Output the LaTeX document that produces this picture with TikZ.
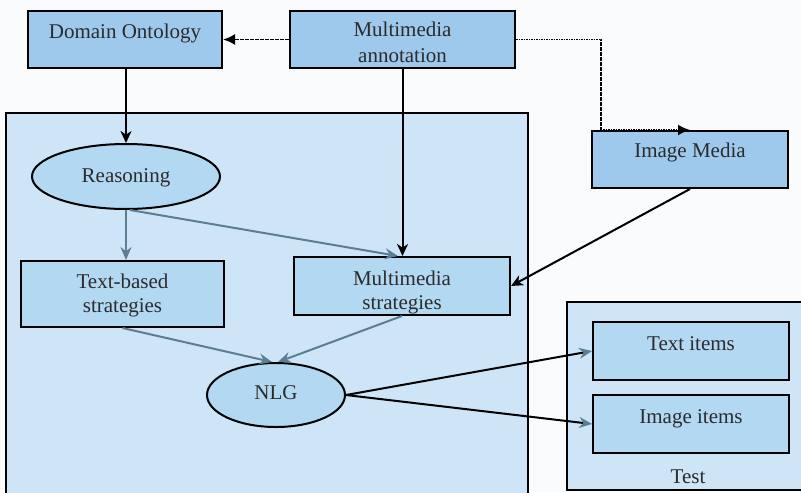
\documentclass[tikz,border=0pt]{standalone}
\usepackage{fontspec}
\setmainfont{Liberation Serif}
\newfontfamily\tmsfont{Liberation Serif}
\usetikzlibrary{arrows.meta,shapes.geometric,calc}
\definecolor{bgc}{HTML}{FAFBFD}
\definecolor{contc}{HTML}{CDE5F6}
\definecolor{darkbox}{HTML}{9FC9EC}
\definecolor{lightbox}{HTML}{B3D8F2}
\definecolor{slate}{HTML}{5D7D93}
\definecolor{textc}{HTML}{2B2B2B}
\begin{document}
\begin{tikzpicture}[x=0.5pt,y=-0.5pt,
  font=\tmsfont\fontsize{10.5}{12}\selectfont,
  dbox/.style={draw=black,line width=1pt,fill=darkbox,inner sep=0pt},
  lbox/.style={draw=black,line width=1pt,fill=lightbox,inner sep=0pt},
  ell/.style={ellipse,draw=black,line width=1pt,fill=lightbox,inner sep=0pt},
  cont/.style={draw=black,line width=0.8pt,fill=contc},
  txt/.style={text=textc,inner sep=0pt,anchor=base,font=\tmsfont\fontsize{10.5}{12}\selectfont},
  blk/.style={draw=black,line width=1pt,-{Stealth[length=6pt,width=5.5pt,inset=1.8pt]}},
  dotline/.style={draw=black,line width=0.9pt,dash pattern=on 0.8pt off 0.45pt,-{Latex[length=6pt,width=5.5pt]}},
  sl/.style={draw=slate,line width=1pt,-{Stealth[length=6.5pt,width=5.5pt,inset=2.2pt]}},
  bsl/.style={draw=black,line width=1pt,-{Stealth[length=6.5pt,width=5.5pt,inset=2.2pt,color=slate]}}
]
\useasboundingbox (0,0) rectangle (801,492);
\fill[bgc] (0,0) rectangle (801,492);
\begin{scope}
\clip (0,0) rectangle (801,492);
\draw[cont] (6,113) rectangle (528,505);
\draw[cont] (567,302) rectangle (815,490);
\end{scope}

% boxes
\node[dbox,minimum width=97pt,minimum height=28.5pt] (do) at (125,39.5) {};
\node[dbox,minimum width=112.5pt,minimum height=28.5pt] (ma) at (402.5,39.5) {};
\node[dbox,minimum width=98pt,minimum height=28.5pt] (im) at (690,159.5) {};
\node[ell,minimum width=94pt,minimum height=32.5pt] (rea) at (126,176.5) {};
\node[lbox,minimum width=101.5pt,minimum height=33pt] (tb) at (122.5,294) {};
\node[lbox,minimum width=108pt,minimum height=29pt] (ms) at (402,286) {};
\node[ell,minimum width=69pt,minimum height=32pt] (nlg) at (276,395) {};
\node[lbox,minimum width=98pt,minimum height=29pt] (ti) at (691,351) {};
\node[lbox,minimum width=98pt,minimum height=29pt] (ii) at (691,424) {};

% texts
\node[txt] (tdo) at (125,39) {Domain Ontology};
\node[txt] (tma1) at (402.5,37) {Multimedia};
\node[txt] (tma2) at (402.5,63) {annotation};
\node[txt] (tim) at (690,157) {Image Media};
\node[txt] (trea) at (126,182) {Reasoning};
\node[txt] (ttb1) at (122.5,288) {Text-based};
\node[txt] (ttb2) at (122.5,312) {strategies};
\node[txt] (tms1) at (402,285) {Multimedia};
\node[txt] (tms2) at (402,309) {strategies};
\node[txt] (tnlg) at (276,399) {NLG};
\node[txt] (tti) at (691,350) {Text items};
\node[txt] (tii) at (691,423) {Image items};
\node[txt] (ttest) at (688,483) {Test};

% connectors
\draw[blk] (do.south -| rea.north) -- (rea.north);
\draw[blk] (ma.south) -- (ma.south |- ms.north);
\draw[dotline] (ma.west) -- (do.east);
\draw[dotline] (ma.east) -| ($(im.north west)+(10,0)$) -- (im.north);
\draw[blk] (im.south) -- (ms.east);
\draw[sl] (rea.south) -- (rea.south |- tb.north);
\draw[sl] ($(rea.south)+(4,0)$) -- ($(ms.north)+(-4,0)$);
\draw[sl] (tb.south) -- ($(nlg.north)+(-4,0)$);
\draw[sl] (ms.south) -- ($(nlg.north)+(2,0)$);
\draw[bsl] (nlg.east) -- (ti.west);
\draw[bsl] (nlg.east) -- (ii.west);
\end{tikzpicture}
\end{document}
